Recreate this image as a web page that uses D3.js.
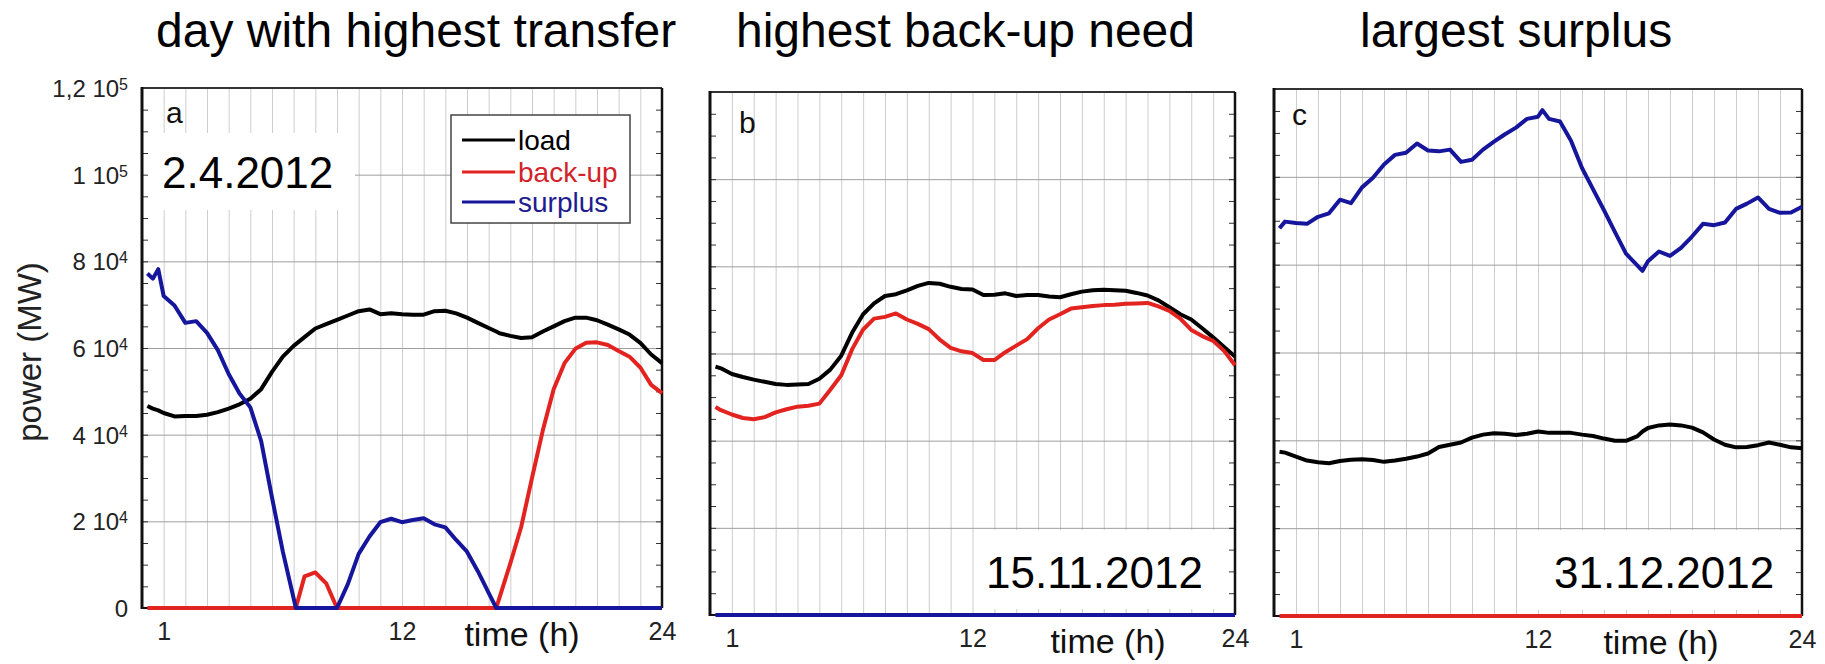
<!DOCTYPE html>
<html>
<head>
<meta charset="utf-8">
<script src="https://cdn.jsdelivr.net/npm/d3@7"></script>
<style>
  html, body { margin: 0; padding: 0; background: #fff; }
  svg { display: block; }
  text { font-family: "Liberation Sans", Arial, sans-serif; }
</style>
</head>
<body>
<svg id="chart" width="1825" height="664"></svg>
<script>
// ---- values (power in MW, time in hours) ----
const titles = ["day with highest transfer", "highest back-up need", "largest surplus"];
const dates = ["2.4.2012", "15.11.2012", "31.12.2012"];
const panelLetters = ["a", "b", "c"];
const seriesNames = ["load", "back-up", "surplus"];

const yTicks = [0, 20000, 40000, 60000, 80000, 100000, 120000];
const yTickMantissa = ["0", "2", "4", "6", "8", "1", "1,2"];
const yTickExponent = ["", "4", "4", "4", "4", "5", "5"];
const xTickHours = [1, 12, 24];

// 2.4.2012
const hoursA = [0.25, 0.5, 0.75, 1, 1.5, 2, 2.5, 3, 3.5, 4, 4.5, 5, 5.5, 6, 6.5, 7, 7.1, 7.5, 8, 8.5, 9, 9.5, 10, 10.5, 11, 11.5, 12, 12.5, 13, 13.5, 14, 14.5, 15, 15.5, 16, 16.35, 16.5, 17, 17.5, 18, 18.5, 19, 19.5, 20, 20.5, 21, 21.5, 22, 22.5, 23, 23.5, 24];
const loadA = [46600, 46000, 45600, 45000, 44200, 44300, 44300, 44600, 45200, 46000, 47000, 48300, 50500, 54500, 58000, 60500, 60900, 62500, 64500, 65500, 66500, 67500, 68500, 68900, 67800, 68000, 67800, 67700, 67700, 68500, 68600, 68000, 67000, 65800, 64600, 63800, 63400, 62800, 62300, 62500, 63800, 65000, 66200, 67000, 67000, 66400, 65400, 64300, 63100, 61200, 58500, 56500];
const backupA = [0, 0, 0, 0, 0, 0, 0, 0, 0, 0, 0, 0, 0, 0, 0, 0, 0, 7300, 8200, 5700, 0, 0, 0, 0, 0, 0, 0, 0, 0, 0, 0, 0, 0, 0, 0, 0, 2400, 10300, 18700, 30000, 41000, 50500, 56500, 59800, 61200, 61300, 60700, 59300, 58000, 55500, 51500, 49600];
const surplusA = [77200, 76000, 78200, 72000, 69800, 65800, 66200, 63500, 59500, 54000, 49500, 46300, 38500, 25500, 13000, 2200, 0, 0, 0, 0, 0, 5500, 12500, 16500, 19800, 20600, 19800, 20300, 20700, 19300, 18600, 15700, 13000, 8500, 3500, 0, 0, 0, 0, 0, 0, 0, 0, 0, 0, 0, 0, 0, 0, 0, 0, 0];

// 15.11.2012
const hoursB = [0.25, 0.5, 1, 1.5, 2, 2.5, 3, 3.5, 4, 4.5, 5, 5.5, 6, 6.5, 7, 7.5, 8, 8.5, 9, 9.5, 10, 10.5, 11, 11.5, 12, 12.5, 13, 13.5, 14, 14.5, 15, 15.5, 16, 16.5, 17, 17.5, 18, 18.5, 19, 19.5, 20, 20.5, 21, 21.5, 22, 22.5, 23, 23.5, 24];
const loadB = [57000, 56600, 55300, 54600, 54000, 53500, 53000, 52800, 52900, 53000, 54200, 56300, 59500, 64800, 69000, 71500, 73200, 73600, 74500, 75500, 76200, 76000, 75300, 74800, 74700, 73400, 73500, 73800, 73200, 73400, 73400, 73100, 72900, 73600, 74200, 74500, 74600, 74500, 74400, 73900, 73300, 72200, 70600, 69000, 67800, 65800, 63700, 61500, 59300];
const backupB = [47700, 47000, 46000, 45200, 44900, 45400, 46500, 47200, 47800, 48000, 48500, 51700, 55000, 61000, 65500, 68000, 68400, 69200, 67800, 66800, 65600, 63200, 61300, 60500, 60100, 58500, 58500, 60300, 61800, 63300, 65800, 67800, 69000, 70300, 70600, 70900, 71100, 71200, 71400, 71500, 71600, 70800, 69800, 68000, 65400, 64000, 62900, 60600, 57300];
const surplusB = [0, 0, 0, 0, 0, 0, 0, 0, 0, 0, 0, 0, 0, 0, 0, 0, 0, 0, 0, 0, 0, 0, 0, 0, 0, 0, 0, 0, 0, 0, 0, 0, 0, 0, 0, 0, 0, 0, 0, 0, 0, 0, 0, 0, 0, 0, 0, 0, 0];

// 31.12.2012
const hoursC = [0.25, 0.5, 1, 1.5, 2, 2.5, 3, 3.5, 4, 4.5, 5, 5.5, 6, 6.5, 7, 7.5, 8, 8.5, 9, 9.5, 10, 10.5, 11, 11.5, 12, 12.2, 12.5, 13, 13.5, 14, 14.5, 15, 15.5, 16, 16.5, 16.75, 17, 17.5, 18, 18.5, 19, 19.5, 20, 20.5, 21, 21.5, 22, 22.5, 23, 23.5, 24];
const loadC = [37400, 37200, 36300, 35400, 35000, 34800, 35300, 35600, 35700, 35500, 35100, 35400, 35800, 36300, 37000, 38500, 39000, 39500, 40600, 41300, 41600, 41500, 41200, 41500, 42000, 41900, 41700, 41700, 41700, 41300, 41000, 40400, 39900, 39900, 40900, 42000, 42800, 43400, 43600, 43400, 42900, 41800, 40200, 39000, 38400, 38500, 38900, 39500, 39000, 38400, 38200];
const backupC = [0, 0, 0, 0, 0, 0, 0, 0, 0, 0, 0, 0, 0, 0, 0, 0, 0, 0, 0, 0, 0, 0, 0, 0, 0, 0, 0, 0, 0, 0, 0, 0, 0, 0, 0, 0, 0, 0, 0, 0, 0, 0, 0, 0, 0, 0, 0, 0, 0, 0, 0];
const surplusC = [88300, 89800, 89500, 89300, 90900, 91700, 94800, 94000, 97600, 99800, 102800, 105000, 105500, 107600, 106000, 105800, 106200, 103400, 103900, 106200, 108000, 109700, 111200, 113200, 113700, 115200, 113200, 112600, 108200, 102000, 97200, 92400, 87400, 82500, 79900, 78600, 80800, 83000, 82000, 83800, 86400, 89300, 89000, 89600, 92700, 93900, 95300, 92700, 91800, 91900, 93200];

// ---- drawing ----
const colors = { load: "#000000", backup: "#e3231f", surplus: "#16169c" };
const legendTextColors = ["#000000", "#d2232a", "#1d1d8f"];

const panels = [
  { hours: hoursA, load: loadA, backup: backupA, surplus: surplusA,
    box: { left: 142, right: 662, top: 88, bottom: 608 },
    title: { x: 156, y: 47 }, letter: { x: 166, y: 123 },
    dateBox: { x0: 142, x1: 355, y0: 133, y1: 210 }, dateText: { x: 162, y: 188 },
    timeLabelX: 522, yLabels: true, legend: true },
  { hours: hoursB, load: loadB, backup: backupB, surplus: surplusB,
    box: { left: 710, right: 1235, top: 92, bottom: 615 },
    title: { x: 736, y: 47 }, letter: { x: 739, y: 133 },
    dateBox: { x0: 982, x1: 1235, y0: 530, y1: 609 }, dateText: { x: 986, y: 588 },
    timeLabelX: 1108, yLabels: false, legend: false },
  { hours: hoursC, load: loadC, backup: backupC, surplus: surplusC,
    box: { left: 1274, right: 1802, top: 89, bottom: 616 },
    title: { x: 1360, y: 47 }, letter: { x: 1292, y: 125 },
    dateBox: { x0: 1537, x1: 1802, y0: 530, y1: 610 }, dateText: { x: 1554, y: 588 },
    timeLabelX: 1661, yLabels: false, legend: false }
];

const svg = d3.select("#chart");

panels.forEach((p, i) => {
  const b = p.box;
  const x = d3.scaleLinear().domain([0, 24]).range([b.left, b.right]);
  const y = d3.scaleLinear().domain([0, 120000]).range([b.bottom, b.top]);
  const g = svg.append("g");

  // hourly vertical grid
  g.append("g")
    .attr("transform", `translate(0,${b.bottom})`)
    .call(d3.axisBottom(x).tickValues(d3.range(1, 24)).tickSize(-(b.bottom - b.top)).tickFormat(""))
    .call(s => s.select(".domain").remove())
    .call(s => s.selectAll("line").attr("stroke", "#cdcdcd").attr("stroke-width", 1));

  // horizontal grid every 20000 MW
  g.append("g")
    .attr("transform", `translate(${b.left},0)`)
    .call(d3.axisLeft(y).tickValues(yTicks.slice(1, -1)).tickSize(-(b.right - b.left)).tickFormat(""))
    .call(s => s.select(".domain").remove())
    .call(s => s.selectAll("line").attr("stroke", "#9e9e9e").attr("stroke-width", 1));

  // white box behind the date
  g.append("rect")
    .attr("x", p.dateBox.x0).attr("y", p.dateBox.y0)
    .attr("width", p.dateBox.x1 - p.dateBox.x0).attr("height", p.dateBox.y1 - p.dateBox.y0)
    .attr("fill", "#fff");

  // minor ticks on both sides, pointing inwards
  const minor = d3.range(0, 120001, 5000);
  g.append("g")
    .attr("transform", `translate(${b.left},0)`)
    .call(d3.axisLeft(y).tickValues(minor).tickSize(-6).tickFormat(""))
    .call(s => s.select(".domain").remove())
    .call(s => s.selectAll("line").attr("stroke", "#333").attr("stroke-width", 1));
  g.append("g")
    .attr("transform", `translate(${b.right},0)`)
    .call(d3.axisRight(y).tickValues(minor).tickSize(-6).tickFormat(""))
    .call(s => s.select(".domain").remove())
    .call(s => s.selectAll("line").attr("stroke", "#333").attr("stroke-width", 1));

  // frame
  g.append("line").attr("x1", b.left).attr("x2", b.right).attr("y1", b.top).attr("y2", b.top)
    .attr("stroke", "#333").attr("stroke-width", 2);
  g.append("line").attr("x1", b.right).attr("x2", b.right).attr("y1", b.top).attr("y2", b.bottom)
    .attr("stroke", "#111").attr("stroke-width", 2.5);
  g.append("line").attr("x1", b.left).attr("x2", b.right).attr("y1", b.bottom).attr("y2", b.bottom)
    .attr("stroke", "#111").attr("stroke-width", 2);
  g.append("line").attr("x1", b.left).attr("x2", b.left).attr("y1", b.top - 1).attr("y2", b.bottom + 1)
    .attr("stroke", "#111").attr("stroke-width", 3);

  // series lines
  const series = [
    { values: p.load, color: colors.load },
    { values: p.backup, color: colors.backup },
    { values: p.surplus, color: colors.surplus }
  ];
  const line = d3.line()
    .x((d, k) => x(p.hours[k]))
    .y(d => y(d));
  series.forEach(s => {
    g.append("path")
      .datum(s.values)
      .attr("d", line)
      .attr("fill", "none")
      .attr("stroke", s.color)
      .attr("stroke-width", 4)
      .attr("stroke-linejoin", "round")
      .attr("stroke-linecap", "butt");
  });

  // hour labels
  g.append("g")
    .attr("transform", `translate(0,${b.bottom})`)
    .call(d3.axisBottom(x).tickValues(xTickHours).tickSize(0).tickPadding(14))
    .call(s => s.select(".domain").remove())
    .call(s => s.selectAll("text")
      .attr("font-family", "Liberation Sans, Arial, sans-serif")
      .attr("font-size", 25).attr("fill", "#222"));

  g.append("text")
    .attr("x", p.timeLabelX).attr("y", b.bottom + 38)
    .attr("text-anchor", "middle")
    .attr("font-size", 34).attr("fill", "#111")
    .text("time (h)");

  // power tick labels (only on the first panel)
  if (p.yLabels) {
    const ya = g.append("g")
      .attr("transform", `translate(${b.left},0)`)
      .call(d3.axisLeft(y).tickValues(yTicks).tickSize(0).tickPadding(14).tickFormat(""));
    ya.select(".domain").remove();
    ya.selectAll(".tick").each(function (d) {
      const k = yTicks.indexOf(d);
      const t = d3.select(this).select("text")
        .attr("x", -14).attr("dy", "0.36em")
        .attr("font-family", "Liberation Sans, Arial, sans-serif")
        .attr("font-size", 24).attr("fill", "#222").attr("text-anchor", "end");
      if (yTickExponent[k]) {
        t.append("tspan").text(yTickMantissa[k] + " 10");
        t.append("tspan").attr("dy", "-0.45em").attr("font-size", 16).text(yTickExponent[k]);
      } else {
        t.append("tspan").text(yTickMantissa[k]);
      }
    });

    svg.append("text")
      .attr("transform", `translate(41,352) rotate(-90)`)
      .attr("text-anchor", "middle")
      .attr("font-size", 33).attr("fill", "#222")
      .text("power (MW)");
  }

  // legend
  if (p.legend) {
    const lg = g.append("g");
    lg.append("rect")
      .attr("x", 451).attr("y", 115).attr("width", 179).attr("height", 108)
      .attr("fill", "#fff").attr("stroke", "#444").attr("stroke-width", 1.5);
    const legendColors = [colors.load, colors.backup, colors.surplus];
    const rowY = [140, 172, 202];
    seriesNames.forEach((name, k) => {
      lg.append("line")
        .attr("x1", 462).attr("x2", 515).attr("y1", rowY[k]).attr("y2", rowY[k])
        .attr("stroke", legendColors[k]).attr("stroke-width", 3);
      lg.append("text")
        .attr("x", 518).attr("y", rowY[k] + 10)
        .attr("font-size", 28).attr("fill", legendTextColors[k])
        .text(name);
    });
  }

  // panel letter, date, title
  g.append("text")
    .attr("x", p.letter.x).attr("y", p.letter.y)
    .attr("font-size", 30).attr("fill", "#111")
    .text(panelLetters[i]);

  g.append("text")
    .attr("x", p.dateText.x).attr("y", p.dateText.y)
    .attr("font-family", "Open Sans, Noto Sans, sans-serif")
    .attr("font-size", 44).attr("fill", "#000")
    .text(dates[i]);

  svg.append("text")
    .attr("x", p.title.x).attr("y", p.title.y)
    .attr("font-size", 48).attr("fill", "#000")
    .text(titles[i]);
});
</script>
</body>
</html>
